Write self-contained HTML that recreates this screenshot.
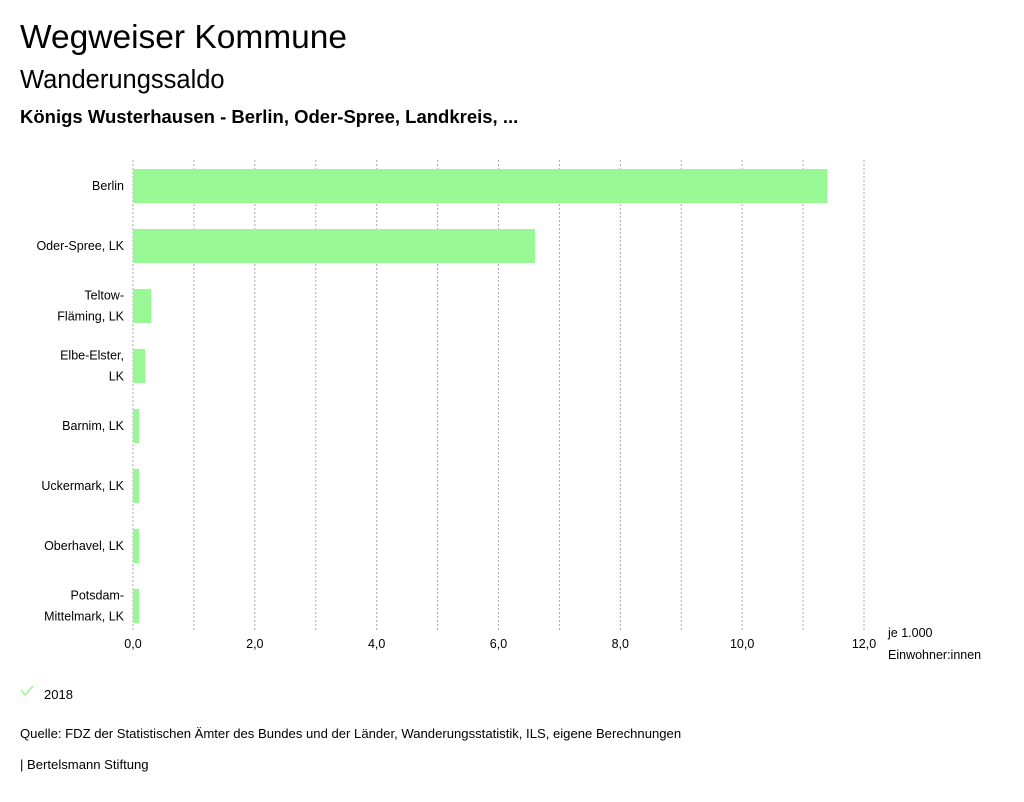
<!DOCTYPE html>
<html><head><meta charset="utf-8"><style>
body{margin:0;width:1024px;height:797px;background:#fff;font-family:"Liberation Sans",sans-serif;color:#000;overflow:hidden}
</style></head><body>
<svg width="1024" height="797">
<text x="20" y="48" font-size="33.5">Wegweiser Kommune</text>
<text x="20" y="88" font-size="25.5">Wanderungssaldo</text>
<text x="20" y="123" font-size="18.5" font-weight="bold">Königs Wusterhausen - Berlin, Oder-Spree, Landkreis, ...</text>
<g id="grid"></g><g id="bars"></g><g id="ylabels"></g><g id="xticks"></g>
<text x="888" y="637" font-size="12.5">je 1.000</text>
<text x="888" y="659" font-size="12.5">Einwohner:innen</text>
<path d="M21 690 l4 5 l8 -9" stroke="#98f893" stroke-width="1.5" fill="none"/>
<text x="44" y="699" font-size="13">2018</text>
<text x="20" y="738" font-size="13.1">Quelle: FDZ der Statistischen Ämter des Bundes und der Länder, Wanderungsstatistik, ILS, eigene Berechnungen</text>
<text x="20" y="769" font-size="13.1">| Bertelsmann Stiftung</text>
</svg>
<script>
const categories=[["Berlin"],["Oder-Spree, LK"],["Teltow-","Fläming, LK"],["Elbe-Elster,","LK"],["Barnim, LK"],["Uckermark, LK"],["Oberhavel, LK"],["Potsdam-","Mittelmark, LK"]];
const values=[11.4,6.6,0.3,0.2,0.1,0.1,0.1,0.1];
const tickValues=[0,2,4,6,8,10,12];
const tickLabels=["0,0","2,0","4,0","6,0","8,0","10,0","12,0"];
const NS="http://www.w3.org/2000/svg";
const x=v=>133+v*(864-133)/12;
const yc=i=>186+i*60;
function mk(t,a,p){const e=document.createElementNS(NS,t);for(const k in a)e.setAttribute(k,a[k]);p.appendChild(e);return e;}
const grid=document.getElementById('grid');
for(let v=0;v<=12;v++){
 const l=mk('line',{x1:x(v),x2:x(v),y1:160,y2:632,stroke:'#aaa','stroke-dasharray':'2,2','stroke-width':1},grid);
 
 
}
const bars=document.getElementById('bars'),yl=document.getElementById('ylabels');
values.forEach((v,i)=>{
 const r=mk('rect',{x:x(0),y:yc(i)-17,width:x(v)-x(0),height:34,fill:'#98f893'},bars);
 
 
 const lines=categories[i];
 lines.forEach((s,j)=>{
  const t=mk('text',{x:124,y:yc(i)+4+(j-(lines.length-1)/2)*21,'font-size':12.5,'text-anchor':'end'},yl);
  t.textContent=s;
  
  
 });
});
const xt=document.getElementById('xticks');
tickValues.forEach((v,i)=>{
 const t=mk('text',{x:x(v),y:648,'font-size':12.5,'text-anchor':'middle'},xt);
 t.textContent=tickLabels[i];
 
 
});
</script>
</body></html>
